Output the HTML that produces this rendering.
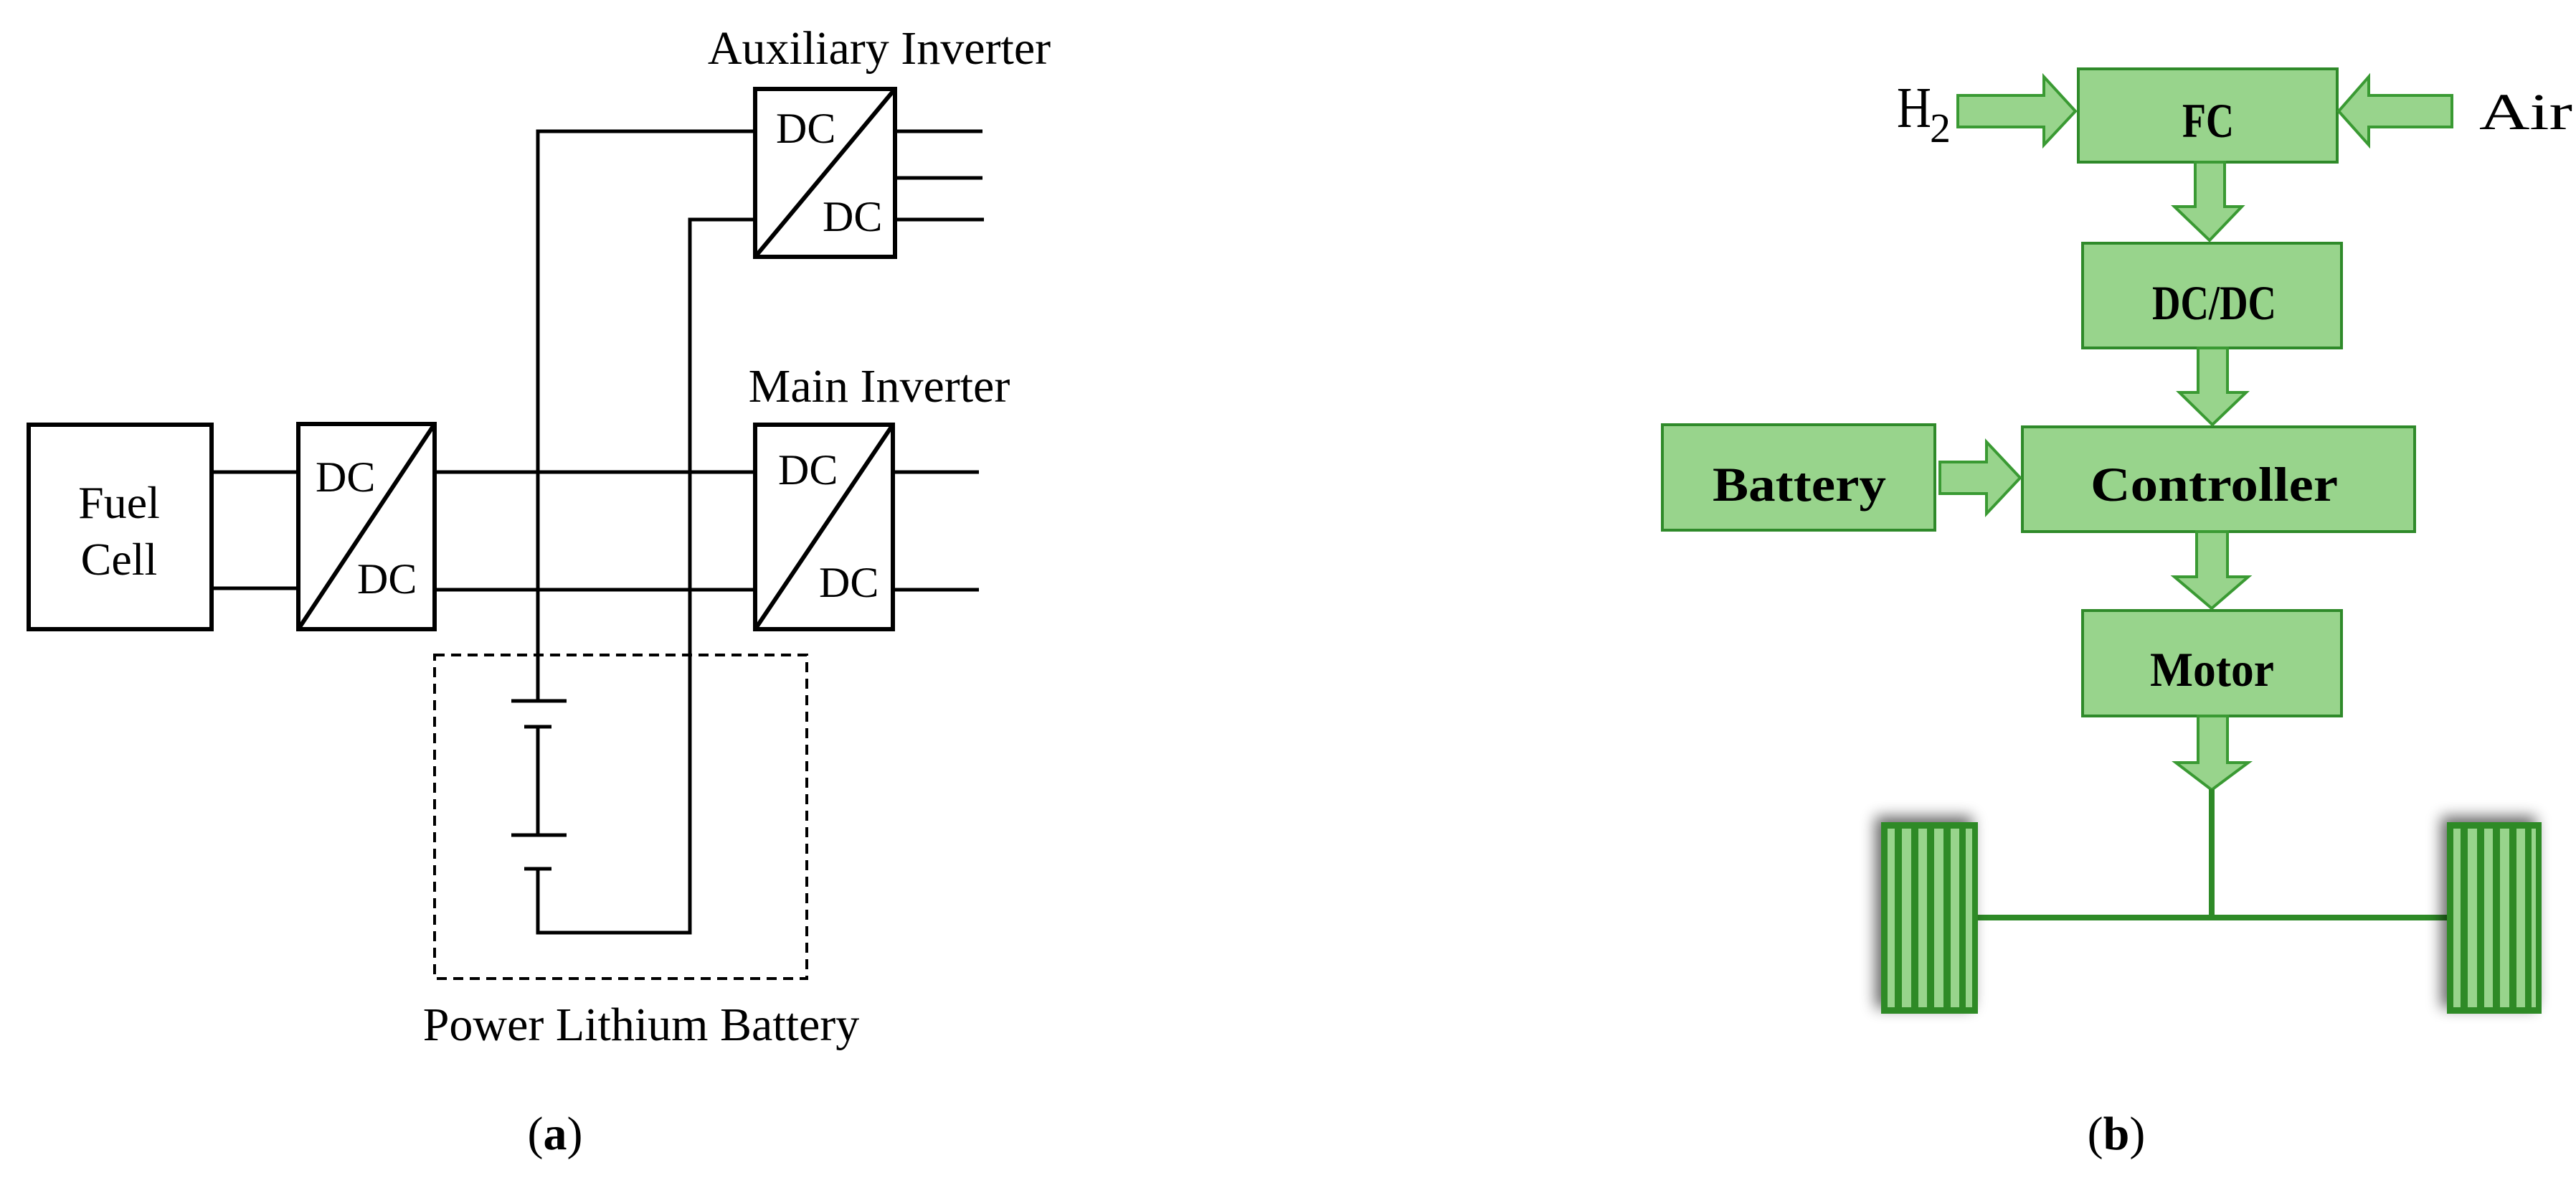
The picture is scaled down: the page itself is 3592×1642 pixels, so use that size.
<!DOCTYPE html>
<html><head><meta charset="utf-8"><style>
html,body{margin:0;padding:0;background:#fff;}
svg{display:block;}
.s{font-family:"Liberation Serif",serif;fill:#000;}
.m{font-family:"Liberation Serif","Noto Serif CJK SC",serif;font-weight:bold;fill:#000;}
</style></head><body>
<svg width="3592" height="1642" viewBox="0 0 3592 1642" xmlns="http://www.w3.org/2000/svg">
<defs>
<filter id="sh" x="-30%" y="-30%" width="160%" height="160%">
<feGaussianBlur in="SourceAlpha" stdDeviation="10"/>
<feOffset dx="-8" dy="-8" result="b"/>
<feComponentTransfer><feFuncA type="linear" slope="0.6"/></feComponentTransfer>
<feMerge><feMergeNode/><feMergeNode in="SourceGraphic"/></feMerge>
</filter>
</defs>
<!-- ===== (a) ===== -->
<g fill="none" stroke="#000" stroke-width="6">
<rect x="40" y="592" width="255" height="285"/>
<rect x="416" y="591" width="190" height="286"/>
<line x1="416" y1="877" x2="606" y2="591"/>
<rect x="1053" y="592" width="192" height="285"/>
<line x1="1053" y1="877" x2="1245" y2="592"/>
<rect x="1053" y="124" width="195" height="234"/>
<line x1="1053" y1="358" x2="1248" y2="124"/>
</g>
<g fill="none" stroke="#000" stroke-width="5">
<line x1="295" y1="658" x2="416" y2="658"/>
<line x1="295" y1="820" x2="416" y2="820"/>
<line x1="606" y1="658" x2="1053" y2="658"/>
<line x1="606" y1="822" x2="1053" y2="822"/>
<line x1="1245" y1="658" x2="1365" y2="658"/>
<line x1="1245" y1="822" x2="1365" y2="822"/>
<line x1="1248" y1="183" x2="1370" y2="183"/>
<line x1="1248" y1="248" x2="1370" y2="248"/>
<line x1="1248" y1="306" x2="1372" y2="306"/>
<polyline points="1053,183 750,183 750,977"/>
<polyline points="1053,306 962,306 962,1300 750,1300 750,1211"/>
<line x1="713" y1="977" x2="790" y2="977"/>
<line x1="731" y1="1013" x2="769" y2="1013"/>
<line x1="750" y1="1013" x2="750" y2="1164"/>
<line x1="713" y1="1164" x2="790" y2="1164"/>
<line x1="731" y1="1211" x2="769" y2="1211"/>
<rect x="606" y="913" width="519" height="451" stroke-width="4" stroke-dasharray="14,9"/>
</g>
<g class="s">
<text x="166" y="722" font-size="64" text-anchor="middle">Fuel</text>
<text x="166" y="801" font-size="64" text-anchor="middle">Cell</text>
<text x="440" y="685" font-size="60">DC</text>
<text x="498" y="827" font-size="60">DC</text>
<text x="1085" y="675" font-size="60">DC</text>
<text x="1142" y="832" font-size="60">DC</text>
<text x="1082" y="199" font-size="60">DC</text>
<text x="1147" y="322" font-size="60">DC</text>
<text x="1226" y="89" font-size="66" text-anchor="middle">Auxiliary Inverter</text>
<text x="1226" y="560" font-size="66" text-anchor="middle">Main Inverter</text>
<text x="894" y="1450" font-size="66" text-anchor="middle">Power Lithium Battery</text>
<text x="774" y="1602" font-size="66" text-anchor="middle">(<tspan font-weight="bold">a</tspan>)</text>
</g>
<!-- ===== (b) ===== -->
<g fill="#98d48c" stroke="#2f8a2a" stroke-width="4">
<rect x="2898" y="96" width="361" height="130"/>
<rect x="2904" y="339" width="361" height="146"/>
<rect x="2820" y="595" width="547" height="146"/>
<rect x="2318" y="592" width="380" height="147"/>
<rect x="2904" y="851" width="361" height="147"/>
</g>
<g fill="#98d48c" stroke="#3a9a33" stroke-width="4" stroke-linejoin="miter">
<polygon points="2730,133 2850,133 2850,107 2894,155 2850,202 2850,177 2730,177"/>
<polygon points="3419,133 3303,133 3303,107 3261,155 3303,202 3303,177 3419,177"/>
<polygon points="3061,226 3102,226 3102,288 3126,288 3081,335 3032,288 3061,288"/>
<polygon points="3065,485 3106,485 3106,547 3132,547 3085,592 3039,547 3065,547"/>
<polygon points="2705,644 2770,644 2770,616 2817,666 2770,716 2770,688 2705,688"/>
<polygon points="3063,741 3106,741 3106,804 3135,804 3084,848 3032,804 3063,804"/>
<polygon points="3065,998 3106,998 3106,1063 3135,1063 3084,1101 3034,1063 3065,1063"/>
</g>
<g stroke="#2e8a27" stroke-width="8">
<line x1="3084" y1="1100" x2="3084" y2="1280"/>
<line x1="2756" y1="1279" x2="3414" y2="1279"/>
</g>
<g filter="url(#sh)">
<g transform="translate(2623,1146)">
<rect x="0" y="0" width="135" height="267" fill="#2e8a27"/>
<g fill="#98d48c">
<rect x="9" y="9" width="10" height="249"/><rect x="29" y="9" width="13" height="249"/>
<rect x="52" y="9" width="12" height="249"/><rect x="74" y="9" width="13" height="249"/>
<rect x="97" y="9" width="12" height="249"/><rect x="118" y="9" width="9" height="249"/>
</g></g>
<g transform="translate(3412,1146)">
<rect x="0" y="0" width="132" height="267" fill="#2e8a27"/>
<g fill="#98d48c">
<rect x="9" y="9" width="10" height="249"/><rect x="29" y="9" width="13" height="249"/>
<rect x="52" y="9" width="12" height="249"/><rect x="74" y="9" width="13" height="249"/>
<rect x="97" y="9" width="12" height="249"/><rect x="118" y="9" width="6" height="249"/>
</g></g>
</g>
<g class="m">
<text x="3043" y="191" font-size="68" textLength="72" lengthAdjust="spacingAndGlyphs">FC</text>
<text x="3001" y="445" font-size="68" textLength="173" lengthAdjust="spacingAndGlyphs">DC/DC</text>
<text x="2388" y="698" font-size="68" textLength="242" lengthAdjust="spacingAndGlyphs">Battery</text>
<text x="2915" y="698" font-size="68" textLength="345" lengthAdjust="spacingAndGlyphs">Controller</text>
<text x="2998" y="956" font-size="68" textLength="173" lengthAdjust="spacingAndGlyphs">Motor</text>
<text x="3457" y="180" font-size="72" font-weight="normal" textLength="130" lengthAdjust="spacingAndGlyphs">Air</text>
</g>
<g class="s">
<text x="2645" y="177" font-size="80" textLength="48" lengthAdjust="spacingAndGlyphs">H</text>
<text x="2691" y="198" font-size="58">2</text>
<text x="2951" y="1602" font-size="66" text-anchor="middle">(<tspan font-weight="bold">b</tspan>)</text>
</g>
</svg>
</body></html>
